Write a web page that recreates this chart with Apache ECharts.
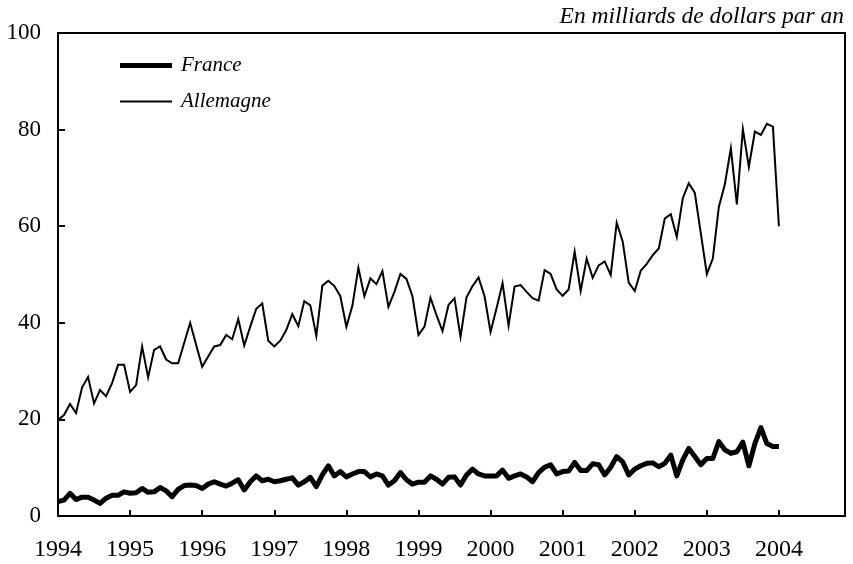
<!DOCTYPE html>
<html>
<head>
<meta charset="utf-8">
<script src="https://cdn.jsdelivr.net/npm/echarts@6/dist/echarts.min.js"></script>
<style>
html,body{margin:0;padding:0;background:#fff;}
#chart{width:853px;height:564px;}
</style>
</head>
<body>
<div id="chart"></div>
<script>
// Monthly values, January 1994 to January 2004 (billions of dollars per year)
var years = [1994, 1995, 1996, 1997, 1998, 1999, 2000, 2001, 2002, 2003, 2004];
var yTicks = [0, 20, 40, 60, 80, 100];
var seriesNames = ['France', 'Allemagne'];
var subtitle = 'En milliards de dollars par an';

var france = [
  3.0, 3.3, 4.7, 3.4, 3.9, 3.9, 3.3, 2.6, 3.7, 4.3, 4.3, 5.0,
  4.7, 4.8, 5.7, 4.9, 5.0, 5.9, 5.2, 4.0, 5.5, 6.3, 6.4, 6.3,
  5.7, 6.6, 7.1, 6.6, 6.2, 6.8, 7.5, 5.4, 7.1, 8.3, 7.3, 7.6,
  7.1, 7.3, 7.6, 7.9, 6.4, 7.1, 8.0, 6.1, 8.5, 10.4, 8.3, 9.2,
  8.1, 8.7, 9.2, 9.2, 8.1, 8.7, 8.3, 6.4, 7.3, 9.0, 7.5, 6.6,
  7.0, 7.0, 8.3, 7.6, 6.6, 8.0, 8.1, 6.4, 8.5, 9.7, 8.7, 8.3,
  8.3, 8.3, 9.5, 7.8, 8.3, 8.7, 8.1, 7.1, 9.0, 10.1, 10.6, 8.7,
  9.2, 9.3, 11.1, 9.4, 9.4, 10.8, 10.6, 8.5, 10.1, 12.3, 11.2, 8.5,
  9.7, 10.4, 10.9, 11.0, 10.2, 10.9, 12.6, 8.3, 11.6, 14.0, 12.3, 10.6,
  11.9, 11.9, 15.4, 13.7, 13.0, 13.3, 15.3, 10.4, 15.0, 18.3, 15.0, 14.4,
  14.4
];

var allemagne = [
  19.9, 20.9, 23.2, 21.3, 26.6, 28.8, 23.3, 26.1, 24.8, 27.5, 31.3, 31.3,
  25.7, 27.1, 35.1, 28.7, 34.4, 35.1, 32.4, 31.6, 31.6, 35.8, 40.0, 35.4,
  30.9, 33.0, 35.1, 35.4, 37.5, 36.6, 40.8, 35.3, 39.2, 42.9, 44.0, 36.3,
  35.1, 36.3, 38.5, 41.8, 39.3, 44.5, 43.6, 37.3, 47.7, 48.7, 47.6, 45.5,
  39.2, 43.5, 51.4, 45.5, 49.2, 48.0, 50.7, 43.3, 46.4, 50.1, 49.1, 45.5,
  37.5, 39.2, 45.2, 41.6, 38.3, 43.7, 45.1, 37.1, 45.3, 47.6, 49.4, 45.5,
  38.1, 43.0, 48.2, 39.4, 47.5, 47.8, 46.4, 45.1, 44.6, 50.9, 50.1, 46.9,
  45.6, 46.9, 54.7, 46.6, 53.3, 49.3, 51.9, 52.7, 49.9, 60.7, 56.8, 48.3,
  46.6, 50.8, 52.2, 54.0, 55.4, 61.6, 62.5, 57.8, 65.8, 68.9, 66.9, 58.5,
  50.1, 53.3, 64.0, 68.7, 76.1, 64.5, 80.1, 72.3, 79.6, 78.9, 81.2, 80.6,
  60.0
];

function toPoints(arr) {
  return arr.map(function (v, i) { return [i, v]; });
}

var serif = '"Liberation Serif", "DejaVu Serif", serif';
var chart = echarts.init(document.getElementById('chart'), null, {renderer: 'canvas'});
chart.setOption({
  animation: false,
  backgroundColor: '#ffffff',
  title: {
    text: subtitle,
    right: 4,
    top: 0,
    textStyle: {fontFamily: serif, fontStyle: 'italic', fontWeight: 'normal', fontSize: 23.5, color: '#000'}
  },
  legend: {
    data: [
      {name: seriesNames[0], icon: 'path://M0,0h52v5h-52z'},
      {name: seriesNames[1], icon: 'path://M0,0h52v2h-52z'}
    ],
    orient: 'vertical',
    left: 115,
    top: 50,
    itemWidth: 52,
    itemHeight: 16,
    itemGap: 15,
    symbolKeepAspect: true,
    textStyle: {fontFamily: serif, fontStyle: 'italic', fontSize: 21, color: '#000', padding: [0, 0, 0, 4]}
  },
  grid: {
    left: 58, right: 8, top: 33, bottom: 48,
    show: true, borderColor: '#000', borderWidth: 2, backgroundColor: 'transparent'
  },
  xAxis: {
    type: 'value',
    min: 0,
    max: 131,
    interval: 12,
    splitLine: {show: false},
    axisLine: {show: true, lineStyle: {color: '#000', width: 2}},
    axisTick: {show: true, inside: true, length: 6, lineStyle: {color: '#000', width: 2}},
    axisLabel: {
      margin: 22,
      fontFamily: serif, fontSize: 24, color: '#000',
      formatter: function (v) {
        if (v % 12 !== 0) return '';
        var y = years[v / 12];
        return y === undefined ? '' : String(y);
      }
    }
  },
  yAxis: {
    type: 'value',
    min: yTicks[0],
    max: yTicks[yTicks.length - 1],
    interval: 20,
    splitLine: {show: false},
    axisLine: {show: true, lineStyle: {color: '#000', width: 2}},
    axisTick: {show: true, inside: true, length: 7, lineStyle: {color: '#000', width: 2}},
    axisLabel: {margin: 17, fontFamily: serif, fontSize: 23, color: '#000'}
  },
  series: [
    {
      name: seriesNames[0],
      type: 'line',
      data: toPoints(france),
      showSymbol: false,
      symbol: 'none',
      color: '#000',
      lineStyle: {color: '#000', width: 5, join: 'round'}
    },
    {
      name: seriesNames[1],
      type: 'line',
      data: toPoints(allemagne),
      showSymbol: false,
      symbol: 'none',
      color: '#000',
      lineStyle: {color: '#000', width: 2, join: 'miter'}
    }
  ]
});
</script>
</body>
</html>
